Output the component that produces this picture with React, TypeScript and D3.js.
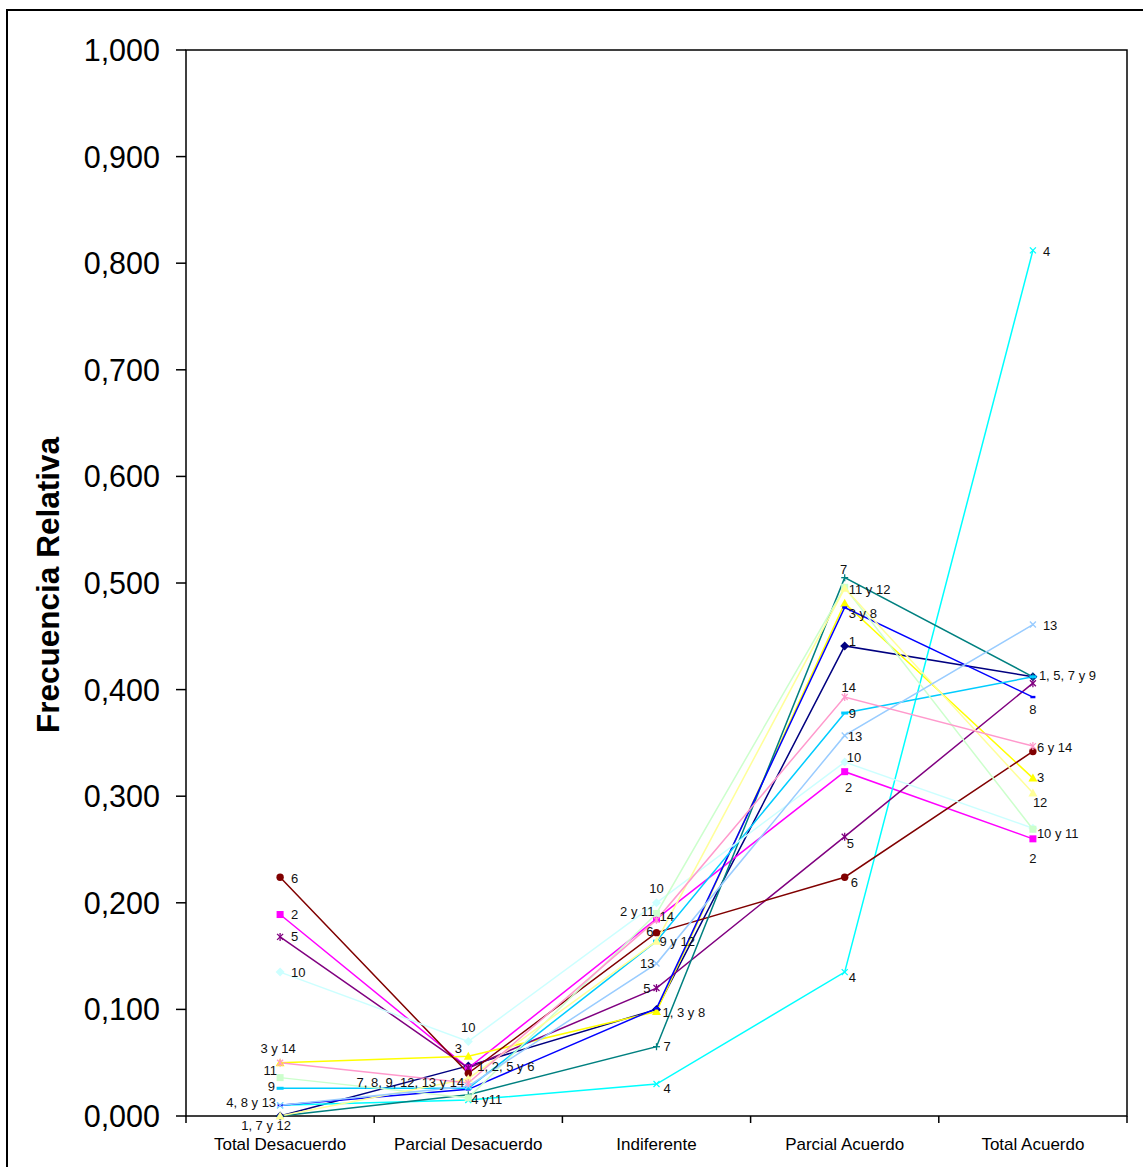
import React from "react";
import * as d3 from "d3";

const categories = ["Total Desacuerdo", "Parcial Desacuerdo", "Indiferente", "Parcial Acuerdo", "Total Acuerdo"];
const yTickValues = [0, 0.1, 0.2, 0.3, 0.4, 0.5, 0.6, 0.7, 0.8, 0.9, 1.0];

const serie1 = [0.0, 0.047, 0.1, 0.441, 0.412];
const serie2 = [0.189, 0.045, 0.185, 0.323, 0.26];
const serie3 = [0.05, 0.056, 0.098, 0.481, 0.317];
const serie4 = [0.01, 0.015, 0.03, 0.135, 0.812];
const serie5 = [0.168, 0.045, 0.12, 0.262, 0.406];
const serie6 = [0.224, 0.04, 0.172, 0.224, 0.342];
const serie7 = [0.0, 0.02, 0.065, 0.505, 0.412];
const serie8 = [0.01, 0.025, 0.101, 0.477, 0.393];
const serie9 = [0.026, 0.026, 0.164, 0.378, 0.412];
const serie10 = [0.135, 0.07, 0.2, 0.332, 0.27];
const serie11 = [0.036, 0.017, 0.19, 0.496, 0.269];
const serie12 = [0.0, 0.035, 0.164, 0.495, 0.303];
const serie13 = [0.01, 0.028, 0.143, 0.357, 0.461];
const serie14 = [0.05, 0.031, 0.184, 0.393, 0.347];

const seriesValues = [serie1, serie2, serie3, serie4, serie5, serie6, serie7, serie8, serie9, serie10, serie11, serie12, serie13, serie14];
const seriesColors = ["#000080", "#FF00FF", "#FFFF00", "#00FFFF", "#800080", "#800000", "#008080", "#0000FF", "#00CCFF", "#CCFFFF", "#CCFFCC", "#FFFF99", "#99CCFF", "#FF99CC"];
const seriesMarkers = ["diamond", "square", "triangle", "x", "star", "circle", "plus", "dash", "bar", "diamond", "square", "triangle", "x", "star"];

// data labels: text, series index (0-based) and category index they annotate
const labelTexts = [
  "6", "2", "5", "10", "3 y 14", "11", "9", "4, 8 y 13", "1, 7 y 12",
  "10", "3", "1, 2, 5 y 6", "7, 8, 9, 12, 13 y 14", "4 y11",
  "10", "2 y 11", "14", "6", "9 y 12", "13", "5", "1, 3 y 8", "7", "4",
  "7", "11 y 12", "3 y 8", "1", "14", "9", "13", "10", "2", "5", "6", "4",
  "4", "13", "1, 5, 7 y 9", "8", "6 y 14", "3", "12", "10 y 11", "2",
];
const labelSeries = [
  5, 1, 4, 9, 2, 10, 8, 3, 0,
  9, 2, 0, 8, 10,
  9, 10, 13, 5, 8, 12, 4, 0, 6, 3,
  6, 10, 7, 0, 13, 8, 12, 9, 1, 4, 5, 3,
  3, 12, 0, 7, 13, 2, 11, 10, 1,
];
const labelCats = [
  0, 0, 0, 0, 0, 0, 0, 0, 0,
  1, 1, 1, 1, 1,
  2, 2, 2, 2, 2, 2, 2, 2, 2, 2,
  3, 3, 3, 3, 3, 3, 3, 3, 3, 3, 3, 3,
  4, 4, 4, 4, 4, 4, 4, 4, 4,
];
// placement style of each label relative to its point: [anchor, dx, dy]
const labelPlacement: [string, number, number][] = [
  ["start", 11, 1], ["start", 11, 0], ["start", 11, 0], ["start", 11, 0], ["middle", -2, -14], ["end", -3, -7], ["end", -5, -2], ["end", -4, -3], ["middle", -14, 9],
  ["middle", 0, -14], ["middle", -10, -8], ["start", 9, 1], ["end", -4, -6], ["start", 3, 2],
  ["middle", 0, -14], ["end", -2, -2], ["start", 3, -3], ["end", -3, -1], ["start", 3, 0], ["end", -2, 0], ["end", -6, 0], ["start", 6, 3], ["start", 7, 0], ["start", 7, 4],
  ["middle", -1, -8], ["start", 4, 2], ["start", 4, 6], ["start", 4, -4], ["middle", 4, -10], ["start", 4, 0], ["start", 3, 1], ["start", 2, -5], ["middle", 4, 16], ["start", 2, 7], ["start", 6, 5], ["start", 4, 5],
  ["start", 10, 1], ["start", 10, 1], ["start", 6, -1], ["middle", 0, 12], ["start", 4, 1], ["start", 4, -1], ["start", 0, 9], ["start", 4, 4], ["middle", 0, 20],
];

const FONT = "'Liberation Sans', Arial, Helvetica, sans-serif";

function Marker({ type, x, y, color }: { type: string; x: number; y: number; color: string }) {
  const s = 4;
  switch (type) {
    case "diamond":
      return <polygon points={`${x},${y - s - 0.5} ${x + s + 0.5},${y} ${x},${y + s + 0.5} ${x - s - 0.5},${y}`} fill={color} />;
    case "square":
      return <rect x={x - 3.5} y={y - 3.5} width={7} height={7} fill={color} />;
    case "triangle":
      return <polygon points={`${x},${y - 4.5} ${x + 4.5},${y + 3.5} ${x - 4.5},${y + 3.5}`} fill={color} />;
    case "x":
      return (
        <g stroke={color} strokeWidth={1.3}>
          <line x1={x - 3} y1={y - 3} x2={x + 3} y2={y + 3} />
          <line x1={x - 3} y1={y + 3} x2={x + 3} y2={y - 3} />
        </g>
      );
    case "star":
      return (
        <g stroke={color} strokeWidth={1.3}>
          <line x1={x - 3} y1={y - 3} x2={x + 3} y2={y + 3} />
          <line x1={x - 3} y1={y + 3} x2={x + 3} y2={y - 3} />
          <line x1={x} y1={y - 4} x2={x} y2={y + 4} />
        </g>
      );
    case "circle":
      return <circle cx={x} cy={y} r={3.7} fill={color} />;
    case "plus":
      return (
        <g stroke={color} strokeWidth={1.3}>
          <line x1={x - 3.5} y1={y} x2={x + 3.5} y2={y} />
          <line x1={x} y1={y - 3.5} x2={x} y2={y + 3.5} />
        </g>
      );
    case "dash":
      return <rect x={x - 2.5} y={y - 1.2} width={5} height={2.4} fill={color} />;
    case "bar":
      return <rect x={x - 3.5} y={y - 1.5} width={7} height={3} fill={color} />;
    default:
      return null;
  }
}

export default function App() {
  const width = 1143;
  const height = 1167;
  const left = 186;
  const right = 1127;
  const top = 50;
  const bottom = 1116;

  const x = d3.scaleBand<string>().domain(categories).range([left, right]).paddingInner(0).paddingOuter(0);
  const cx = (i: number) => (x(categories[i]) as number) + x.bandwidth() / 2;
  const y = d3.scaleLinear().domain([0, 1]).range([bottom, top]);
  const fmt = (v: number) => d3.format(".3f")(v).replace(".", ",");

  const line = d3
    .line<number>()
    .x((_, i) => cx(i))
    .y((d) => y(d));

  const boundaries = categories.map((c) => x(c) as number).concat([right]);

  return (
    <svg width={width} height={height} style={{ position: "absolute", left: 0, top: 0, background: "#fff" }} fontFamily={FONT}>
      <rect x={0} y={0} width={width} height={height} fill="#fff" />
      {/* outer chart border */}
      <rect x={7} y={10} width={width + 20} height={height + 20} fill="none" stroke="#000" strokeWidth={2} />

      {/* plot area frame */}
      <rect x={left} y={top} width={right - left} height={bottom - top} fill="#fff" stroke="#000" strokeWidth={1.5} />

      {/* y ticks */}
      {yTickValues.map((v) => (
        <g key={v}>
          <line x1={left - 10} x2={left} y1={y(v)} y2={y(v)} stroke="#000" strokeWidth={1.5} />
          <text x={160} y={y(v)} textAnchor="end" dominantBaseline="central" fontSize={30.5} fill="#000">
            {fmt(v)}
          </text>
        </g>
      ))}

      {/* x ticks */}
      {boundaries.map((b, i) => (
        <line key={i} x1={b} x2={b} y1={bottom} y2={bottom + 7} stroke="#000" strokeWidth={1.5} />
      ))}
      {categories.map((c, i) => (
        <text key={c} x={cx(i)} y={1144} textAnchor="middle" dominantBaseline="central" fontSize={17} fill="#000">
          {c}
        </text>
      ))}

      {/* y axis title */}
      <text
        transform={`translate(48, ${(top + bottom) / 2 + 2}) rotate(-90)`}
        textAnchor="middle"
        dominantBaseline="central"
        fontSize={31.5}
        fontWeight="bold"
        fill="#000"
      >
        Frecuencia Relativa
      </text>

      {/* series lines */}
      {seriesValues.map((vals, s) => (
        <path key={`l${s}`} d={line(vals) || ""} fill="none" stroke={seriesColors[s]} strokeWidth={1.5} />
      ))}
      {/* markers */}
      {seriesValues.map((vals, s) => (
        <g key={`m${s}`}>
          {vals.map((v, i) => (
            <Marker key={i} type={seriesMarkers[s]} x={cx(i)} y={y(v)} color={seriesColors[s]} />
          ))}
        </g>
      ))}

      {/* data labels */}
      {labelTexts.map((t, k) => {
        const [anchor, dx, dy] = labelPlacement[k];
        const px = cx(labelCats[k]);
        const py = y(seriesValues[labelSeries[k]][labelCats[k]]);
        return (
          <text
            key={`t${k}`}
            x={px + dx}
            y={py + dy}
            textAnchor={anchor as any}
            dominantBaseline="central"
            fontSize={13}
            fill="#111"
          >
            {t}
          </text>
        );
      })}
    </svg>
  );
}
